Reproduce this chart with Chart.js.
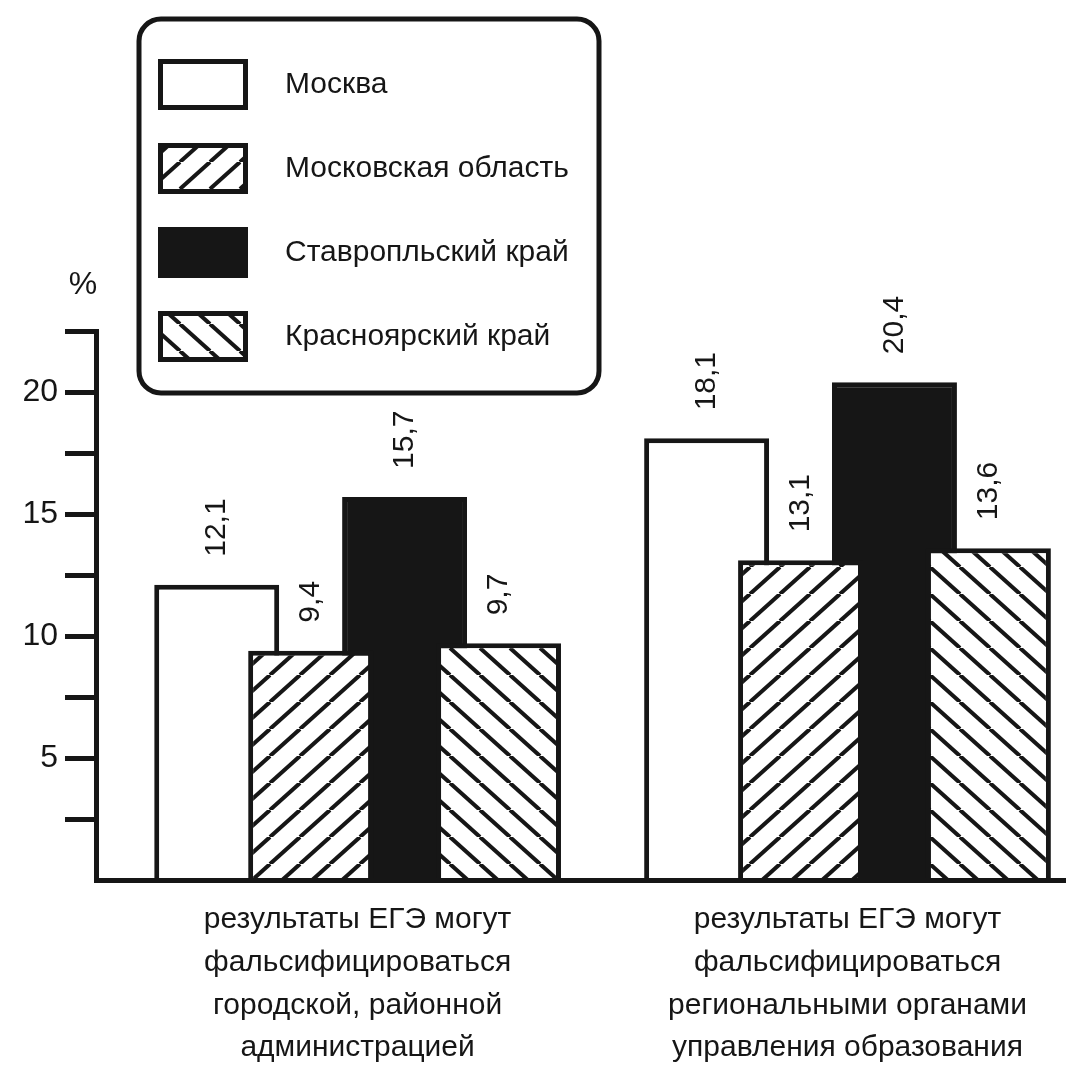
<!DOCTYPE html>
<html lang="ru">
<head>
<meta charset="utf-8">
<title>Фальсификация результатов ЕГЭ</title>
<script src="https://cdn.jsdelivr.net/npm/chart.js@4.4.1/dist/chart.umd.min.js"></script>
<style>
  html, body { margin: 0; padding: 0; background: #fff; }
  #wrap { width: 1066px; height: 1075px; position: relative; }
</style>
</head>
<body>
<div id="wrap"><canvas id="chart"></canvas></div>
<script>
// Data
const categories = [
  ["результаты ЕГЭ могут", "фальсифицироваться", "городской, районной", "администрацией"],
  ["результаты ЕГЭ могут", "фальсифицироваться", "региональными органами", "управления образования"],
];
const seriesNames = ["Москва", "Московская область", "Ставропльский край", "Красноярский край"];
const moscow = [12.1, 18.1];
const moscowRegion = [9.4, 13.1];
const stavropol = [15.7, 20.4];
const krasnoyarsk = [9.7, 13.6];
const yLabelValues = [5, 10, 15, 20];
const yUnit = "%";

const INK = "#161616";
const FONT = '"Liberation Sans", Arial, sans-serif';

Chart.defaults.font.family = FONT;
Chart.defaults.color = INK;

const canvas = document.getElementById("chart");
const ctx = canvas.getContext("2d");

// diagonal hatch pattern, "/" or "\"
function hatch(dir) {
  const w = 30, h = 27;
  const tile = document.createElement("canvas");
  tile.width = w;
  tile.height = h;
  const g = tile.getContext("2d");
  g.fillStyle = "#fff";
  g.fillRect(0, 0, w, h);
  g.strokeStyle = INK;
  g.lineWidth = 4;
  for (const k of [-1, 0, 1]) {
    g.beginPath();
    if (dir === "/") {
      g.moveTo(k * w, h);
      g.lineTo(k * w + w, 0);
    } else {
      g.moveTo(k * w, 0);
      g.lineTo(k * w + w, h);
    }
    g.stroke();
  }
  return ctx.createPattern(tile, "repeat");
}

const fills = ["#ffffff", hatch("/"), INK, hatch("\\")];
const seriesValues = [moscow, moscowRegion, stavropol, krasnoyarsk];

const datasets = seriesValues.map((vals, i) => ({
  label: seriesNames[i],
  data: vals.map((v, j) => ({ x: j, y: v })),
  backgroundColor: fills[i],
  borderColor: INK,
  borderWidth: 5,
}));

// hatched bars sit on top of their neighbours
const ON_TOP = [1, 3];
let manualDraw = false;
const drawOrder = {
  id: "drawOrder",
  beforeDatasetDraw(chart, args) {
    if (!manualDraw && ON_TOP.includes(args.index)) return false;
  },
  afterDatasetsDraw(chart) {
    manualDraw = true;
    ON_TOP.forEach((i) => chart.getDatasetMeta(i).controller.draw());
    manualDraw = false;
  },
};

// rotated value labels above bars
const valueLabels = {
  id: "valueLabels",
  afterDraw(chart) {
    const c = chart.ctx;
    c.save();
    c.font = "30px " + FONT;
    c.fillStyle = INK;
    c.textAlign = "left";
    c.textBaseline = "middle";
    chart.data.datasets.forEach((ds, i) => {
      chart.getDatasetMeta(i).data.forEach((el, j) => {
        c.save();
        c.translate(el.x, el.y - 28);
        c.rotate(-Math.PI / 2);
        c.fillText(ds.data[j].y.toFixed(1).replace(".", ","), 0, 0);
        c.restore();
      });
    });
    // unit above y axis
    c.font = "32px " + FONT;
    c.textAlign = "center";
    c.fillText(yUnit, chart.chartArea.left - 13, chart.chartArea.top - 46);
    c.restore();
  },
};

// boxed legend with swatches
const boxLegend = {
  id: "boxLegend",
  afterDraw(chart) {
    const c = chart.ctx;
    const bx = 139, by = 19, bw = 460, bh = 374, r = 22;
    c.save();
    c.beginPath();
    c.moveTo(bx + r, by);
    c.arcTo(bx + bw, by, bx + bw, by + bh, r);
    c.arcTo(bx + bw, by + bh, bx, by + bh, r);
    c.arcTo(bx, by + bh, bx, by, r);
    c.arcTo(bx, by, bx + bw, by, r);
    c.closePath();
    c.fillStyle = "#fff";
    c.fill();
    c.lineWidth = 5;
    c.strokeStyle = INK;
    c.stroke();

    c.font = "30px " + FONT;
    c.textAlign = "left";
    c.textBaseline = "middle";
    chart.data.datasets.forEach((ds, i) => {
      const sx = bx + 19, sy = by + 40 + i * 84, sw = 90, sh = 51;
      c.fillStyle = ds.backgroundColor;
      c.fillRect(sx, sy, sw, sh);
      c.lineWidth = 5;
      c.strokeStyle = INK;
      c.strokeRect(sx + 2.5, sy + 2.5, sw - 5, sh - 5);
      c.fillStyle = INK;
      c.fillText(ds.label, bx + 146, sy + sh / 2);
    });
    c.restore();
  },
};

new Chart(ctx, {
  type: "bar",
  data: { datasets },
  options: {
    responsive: true,
    maintainAspectRatio: false,
    animation: false,
    events: [],
    categoryPercentage: 0.767,
    barPercentage: 1.33,
    layout: { padding: { top: 331, left: 0, right: 0, bottom: 0 } },
    plugins: {
      legend: { display: false },
      tooltip: { enabled: false },
    },
    scales: {
      x: {
        type: "linear",
        offset: false,
        bounds: "data",
        min: -0.534,
        max: 1.446,
        afterBuildTicks: (scale) => {
          scale.ticks = categories.map((_, i) => ({ value: i }));
        },
        afterFit: (scale) => {
          scale.height = 195;
        },
        grid: { display: false, drawTicks: false, offset: false },
        border: { display: true, color: INK, width: 5, z: 1 },
        ticks: {
          autoSkip: false,
          maxRotation: 0,
          padding: 18,
          color: INK,
          font: { size: 30, lineHeight: 1.43 },
          callback: (value, index) => categories[index],
        },
      },
      y: {
        min: 0,
        max: 22.5,
        afterFit: (scale) => {
          scale.width = 96;
        },
        grid: {
          drawOnChartArea: false,
          drawTicks: true,
          tickLength: 31,
          tickWidth: 5,
          tickColor: (c) => (c.tick && c.tick.value === 0 ? "rgba(0,0,0,0)" : INK),
        },
        border: { display: true, color: INK, width: 5, z: 1 },
        ticks: {
          stepSize: 2.5,
          autoSkip: false,
          padding: 7,
          color: INK,
          font: { size: 32 },
          callback: (v) => (yLabelValues.includes(v) ? String(v) : ""),
        },
      },
    },
  },
  plugins: [drawOrder, valueLabels, boxLegend],
});
</script>
</body>
</html>
